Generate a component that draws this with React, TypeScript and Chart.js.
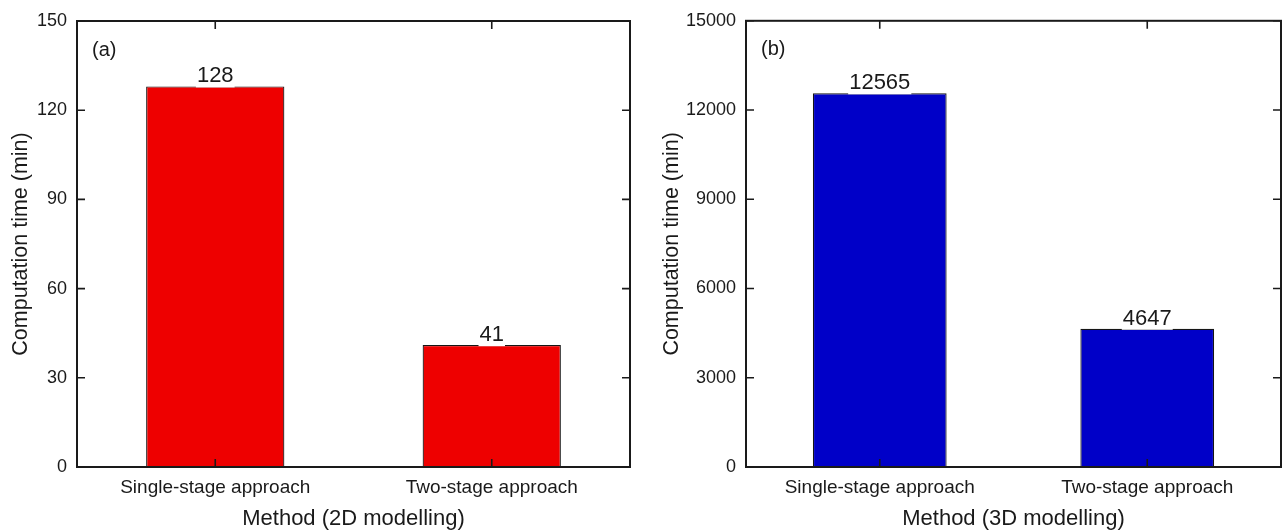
import React, { useEffect, useRef } from "react";
import { Chart, registerables } from "chart.js";

Chart.register(...registerables);

const categories = ["Single-stage approach", "Two-stage approach"];
const values2D = [128, 41];
const values3D = [12565, 4647];
const yMax2D = 150;
const yStep2D = 30;
const yMax3D = 15000;
const yStep3D = 3000;

const FONT = "'Liberation Sans', Arial, Helvetica, sans-serif";
const INK = "#1a1a1a";

const framePlugin = {
  id: "frame",
  afterDatasetsDraw(chart: any) {
    const ctx = chart.ctx;
    const meta = chart.getDatasetMeta(0);
    const data = chart.data.datasets[0].data;
    ctx.save();
    ctx.font = `22px ${FONT}`;
    ctx.textAlign = "center";
    ctx.textBaseline = "alphabetic";
    meta.data.forEach((bar: any, i: number) => {
      const txt = String(data[i]);
      const w = ctx.measureText(txt).width;
      ctx.fillStyle = "#ffffff";
      ctx.fillRect(bar.x - w / 2 - 1, bar.y - 2, w + 2, 3);
      ctx.fillStyle = INK;
      ctx.fillText(txt, bar.x, bar.y - 4);
    });
    ctx.restore();
  },
  afterDraw(chart: any, _args: any, opts: any) {
    const ctx = chart.ctx;
    const { left, right, top, bottom } = chart.chartArea;
    const x = chart.scales.x;
    const y = chart.scales.y;
    ctx.save();
    ctx.strokeStyle = INK;
    ctx.lineWidth = 2;
    ctx.strokeRect(left, top, right - left, bottom - top);
    ctx.lineWidth = 1.6;
    const L = 8;
    ctx.beginPath();
    x.ticks.forEach((_t: any, i: number) => {
      const px = x.getPixelForTick(i);
      ctx.moveTo(px, bottom);
      ctx.lineTo(px, bottom - L);
      ctx.moveTo(px, top);
      ctx.lineTo(px, top + L);
    });
    y.ticks.forEach((_t: any, i: number) => {
      const py = y.getPixelForTick(i);
      ctx.moveTo(left, py);
      ctx.lineTo(left + L, py);
      ctx.moveTo(right, py);
      ctx.lineTo(right - L, py);
    });
    ctx.stroke();
    if (opts && opts.panel) {
      ctx.fillStyle = INK;
      ctx.font = `20px ${FONT}`;
      ctx.textAlign = "left";
      ctx.textBaseline = "middle";
      ctx.fillText(opts.panel, left + 15, top + 29);
    }
    ctx.restore();
  },
};

type PanelProps = {
  width: number;
  values: number[];
  color: string;
  yMax: number;
  yStep: number;
  xTitle: string;
  panel: string;
  padLeft: number;
  padRight: number;
  padTop: number;
  yWidth: number;
};

function BarPanel(p: PanelProps) {
  const ref = useRef<HTMLCanvasElement | null>(null);
  useEffect(() => {
    if (!ref.current) return;
    const chart = new Chart(ref.current, {
      type: "bar",
      data: {
        labels: categories,
        datasets: [
          {
            data: p.values,
            backgroundColor: p.color,
            borderColor: "#151515",
            borderWidth: 1.2,
            barPercentage: 0.5,
            categoryPercentage: 1,
          },
        ],
      },
      plugins: [framePlugin],
      options: {
        responsive: false,
        animation: false,
        devicePixelRatio: 1,
        layout: { padding: { left: p.padLeft, right: p.padRight, top: p.padTop, bottom: 0 } },
        plugins: {
          legend: { display: false },
          tooltip: { enabled: false },
          frame: { panel: p.panel },
        } as any,
        scales: {
          x: {
            type: "category",
            grid: { display: true, drawOnChartArea: false, drawTicks: false },
            border: { display: true, color: INK, width: 2 },
            ticks: { color: INK, font: { family: FONT, size: 19 }, padding: 9, maxRotation: 0 },
            title: {
              display: true,
              text: p.xTitle,
              color: INK,
              font: { family: FONT, size: 22 },
              padding: { top: 0, bottom: 0 },
            },
            afterFit: (s: any) => {
              s.height = 65;
            },
          },
          y: {
            type: "linear",
            min: 0,
            max: p.yMax,
            grid: { display: true, drawOnChartArea: false, drawTicks: false },
            border: { display: true, color: INK, width: 2 },
            ticks: {
              stepSize: p.yStep,
              color: INK,
              font: { family: FONT, size: 18 },
              padding: 10,
              callback: (v: any) => String(v),
            },
            title: {
              display: true,
              text: "Computation time (min)",
              color: INK,
              font: { family: FONT, size: 21.5 },
              padding: { top: 8, bottom: 0 },
            },
            afterFit: (s: any) => {
              s.width = p.yWidth;
            },
          },
        },
      } as any,
    });
    return () => chart.destroy();
  }, []);
  return <canvas ref={ref} width={p.width} height={532} style={{ display: "block" }} />;
}

export default function App() {
  return (
    <div style={{ position: "fixed", left: 0, top: 0, width: 1284, height: 532, background: "#fff", display: "flex" }}>
      <BarPanel
        width={640}
        values={values2D}
        color="#EE0000"
        yMax={yMax2D}
        yStep={yStep2D}
        xTitle="Method (2D modelling)"
        panel="(a)"
        padLeft={0}
        padRight={10}
        padTop={21}
        yWidth={77}
      />
      <BarPanel
        width={644}
        values={values3D}
        color="#0000C8"
        yMax={yMax3D}
        yStep={yStep3D}
        xTitle="Method (3D modelling)"
        panel="(b)"
        padLeft={11}
        padRight={3}
        padTop={20}
        yWidth={95}
      />
    </div>
  );
}
